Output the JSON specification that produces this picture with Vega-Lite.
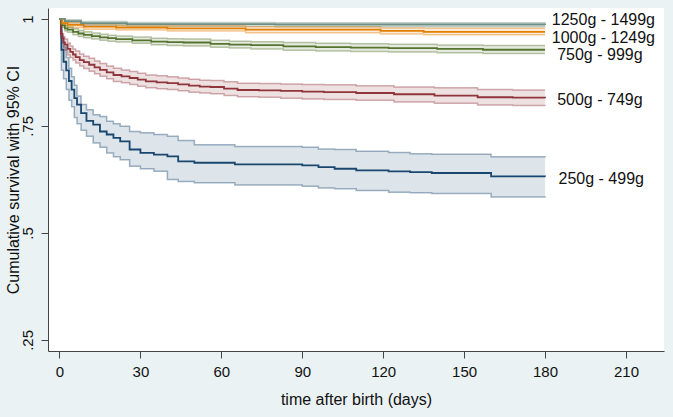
{
  "$schema": "https://vega.github.io/schema/vega-lite/v6.json",
  "width": 616,
  "height": 343,
  "autosize": {"type": "none"},
  "padding": {"left": 48, "top": 8, "right": 9, "bottom": 66},
  "background": "#eaf2f3",
  "config": {
    "view": {"fill": "white", "stroke": null},
    "font": "Liberation Sans",
    "axis": {
      "domainColor": "#444444",
      "tickColor": "#444444",
      "tickSize": 7,
      "grid": false,
      "labelFont": "Liberation Sans",
      "titleFont": "Liberation Sans",
      "labelFontSize": 15,
      "titleFontSize": 16,
      "labelColor": "#111111",
      "titleColor": "#111111",
      "titleFontWeight": "normal"
    }
  },
  "datasets": {
    "km": [
      {"g": "250", "t": 0, "s": 1, "lo": 1, "hi": 1},
      {"g": "250", "t": 0.7, "s": 0.928, "lo": 0.88, "hi": 0.96},
      {"g": "250", "t": 1.5, "s": 0.9, "lo": 0.86, "hi": 0.935},
      {"g": "250", "t": 2.5, "s": 0.88, "lo": 0.835, "hi": 0.91},
      {"g": "250", "t": 3.5, "s": 0.855, "lo": 0.81, "hi": 0.885},
      {"g": "250", "t": 4.5, "s": 0.835, "lo": 0.795, "hi": 0.865},
      {"g": "250", "t": 5.5, "s": 0.815, "lo": 0.77, "hi": 0.845},
      {"g": "250", "t": 6.5, "s": 0.8, "lo": 0.755, "hi": 0.82},
      {"g": "250", "t": 8, "s": 0.78, "lo": 0.74, "hi": 0.8},
      {"g": "250", "t": 10, "s": 0.762, "lo": 0.726, "hi": 0.788},
      {"g": "250", "t": 12.5, "s": 0.753, "lo": 0.71, "hi": 0.776},
      {"g": "250", "t": 15, "s": 0.737, "lo": 0.7, "hi": 0.772},
      {"g": "250", "t": 17.5, "s": 0.73, "lo": 0.687, "hi": 0.761},
      {"g": "250", "t": 20, "s": 0.722, "lo": 0.678, "hi": 0.755},
      {"g": "250", "t": 22.5, "s": 0.714, "lo": 0.671, "hi": 0.749},
      {"g": "250", "t": 26, "s": 0.695, "lo": 0.656, "hi": 0.737},
      {"g": "250", "t": 30, "s": 0.687, "lo": 0.65, "hi": 0.734},
      {"g": "250", "t": 35, "s": 0.683, "lo": 0.644, "hi": 0.73},
      {"g": "250", "t": 40, "s": 0.679, "lo": 0.625, "hi": 0.726},
      {"g": "250", "t": 44, "s": 0.667, "lo": 0.62, "hi": 0.716},
      {"g": "250", "t": 50, "s": 0.664, "lo": 0.617, "hi": 0.706},
      {"g": "250", "t": 65, "s": 0.66, "lo": 0.612, "hi": 0.702},
      {"g": "250", "t": 90, "s": 0.658, "lo": 0.609, "hi": 0.7},
      {"g": "250", "t": 96, "s": 0.654, "lo": 0.605, "hi": 0.696},
      {"g": "250", "t": 102, "s": 0.65, "lo": 0.603, "hi": 0.695},
      {"g": "250", "t": 110, "s": 0.646, "lo": 0.599, "hi": 0.691},
      {"g": "250", "t": 122, "s": 0.644, "lo": 0.595, "hi": 0.688},
      {"g": "250", "t": 130, "s": 0.642, "lo": 0.594, "hi": 0.685},
      {"g": "250", "t": 138, "s": 0.64, "lo": 0.592, "hi": 0.684},
      {"g": "250", "t": 160, "s": 0.632, "lo": 0.584, "hi": 0.678},
      {"g": "250", "t": 180, "s": 0.631, "lo": 0.582, "hi": 0.676},

      {"g": "500", "t": 0, "s": 1, "lo": 1, "hi": 1},
      {"g": "500", "t": 0.5, "s": 0.965, "lo": 0.955, "hi": 0.975},
      {"g": "500", "t": 1, "s": 0.955, "lo": 0.944, "hi": 0.966},
      {"g": "500", "t": 1.5, "s": 0.945, "lo": 0.932, "hi": 0.958},
      {"g": "500", "t": 2, "s": 0.94, "lo": 0.927, "hi": 0.953},
      {"g": "500", "t": 3, "s": 0.93, "lo": 0.916, "hi": 0.944},
      {"g": "500", "t": 4, "s": 0.923, "lo": 0.91, "hi": 0.937},
      {"g": "500", "t": 5, "s": 0.917, "lo": 0.904, "hi": 0.93},
      {"g": "500", "t": 6, "s": 0.911, "lo": 0.897, "hi": 0.925},
      {"g": "500", "t": 7.5, "s": 0.904, "lo": 0.89, "hi": 0.918},
      {"g": "500", "t": 9, "s": 0.899, "lo": 0.884, "hi": 0.913},
      {"g": "500", "t": 11, "s": 0.893, "lo": 0.878, "hi": 0.908},
      {"g": "500", "t": 13, "s": 0.887, "lo": 0.872, "hi": 0.902},
      {"g": "500", "t": 15, "s": 0.881, "lo": 0.866, "hi": 0.896},
      {"g": "500", "t": 17.5, "s": 0.875, "lo": 0.86, "hi": 0.89},
      {"g": "500", "t": 20, "s": 0.869, "lo": 0.854, "hi": 0.885},
      {"g": "500", "t": 23, "s": 0.866, "lo": 0.851, "hi": 0.881},
      {"g": "500", "t": 26, "s": 0.862, "lo": 0.847, "hi": 0.877},
      {"g": "500", "t": 29, "s": 0.858, "lo": 0.843, "hi": 0.873},
      {"g": "500", "t": 32, "s": 0.854, "lo": 0.839, "hi": 0.869},
      {"g": "500", "t": 36, "s": 0.852, "lo": 0.837, "hi": 0.867},
      {"g": "500", "t": 40, "s": 0.85, "lo": 0.835, "hi": 0.865},
      {"g": "500", "t": 44, "s": 0.847, "lo": 0.832, "hi": 0.862},
      {"g": "500", "t": 48, "s": 0.844, "lo": 0.829, "hi": 0.859},
      {"g": "500", "t": 52, "s": 0.842, "lo": 0.827, "hi": 0.857},
      {"g": "500", "t": 56, "s": 0.841, "lo": 0.825, "hi": 0.856},
      {"g": "500", "t": 61, "s": 0.837, "lo": 0.821, "hi": 0.853},
      {"g": "500", "t": 66, "s": 0.834, "lo": 0.818, "hi": 0.85},
      {"g": "500", "t": 74, "s": 0.833, "lo": 0.817, "hi": 0.849},
      {"g": "500", "t": 82, "s": 0.832, "lo": 0.815, "hi": 0.848},
      {"g": "500", "t": 90, "s": 0.83, "lo": 0.813, "hi": 0.847},
      {"g": "500", "t": 98, "s": 0.829, "lo": 0.812, "hi": 0.846},
      {"g": "500", "t": 110, "s": 0.827, "lo": 0.81, "hi": 0.844},
      {"g": "500", "t": 124, "s": 0.824, "lo": 0.806, "hi": 0.841},
      {"g": "500", "t": 139, "s": 0.821, "lo": 0.803, "hi": 0.839},
      {"g": "500", "t": 155, "s": 0.817, "lo": 0.799, "hi": 0.835},
      {"g": "500", "t": 168, "s": 0.816, "lo": 0.798, "hi": 0.834},
      {"g": "500", "t": 180, "s": 0.815, "lo": 0.797, "hi": 0.834},

      {"g": "750", "t": 0, "s": 1, "lo": 1, "hi": 1},
      {"g": "750", "t": 0.5, "s": 0.99, "lo": 0.986, "hi": 0.994},
      {"g": "750", "t": 1, "s": 0.985, "lo": 0.98, "hi": 0.99},
      {"g": "750", "t": 2, "s": 0.978, "lo": 0.972, "hi": 0.984},
      {"g": "750", "t": 3, "s": 0.975, "lo": 0.969, "hi": 0.981},
      {"g": "750", "t": 5, "s": 0.97, "lo": 0.963, "hi": 0.977},
      {"g": "750", "t": 7, "s": 0.966, "lo": 0.959, "hi": 0.973},
      {"g": "750", "t": 9, "s": 0.963, "lo": 0.956, "hi": 0.97},
      {"g": "750", "t": 12, "s": 0.96, "lo": 0.953, "hi": 0.967},
      {"g": "750", "t": 15, "s": 0.957, "lo": 0.95, "hi": 0.964},
      {"g": "750", "t": 18, "s": 0.955, "lo": 0.948, "hi": 0.962},
      {"g": "750", "t": 21, "s": 0.953, "lo": 0.946, "hi": 0.96},
      {"g": "750", "t": 27, "s": 0.95, "lo": 0.943, "hi": 0.958},
      {"g": "750", "t": 34, "s": 0.947, "lo": 0.94, "hi": 0.955},
      {"g": "750", "t": 40, "s": 0.946, "lo": 0.938, "hi": 0.954},
      {"g": "750", "t": 46, "s": 0.945, "lo": 0.937, "hi": 0.953},
      {"g": "750", "t": 56, "s": 0.942, "lo": 0.934, "hi": 0.95},
      {"g": "750", "t": 63, "s": 0.94, "lo": 0.932, "hi": 0.948},
      {"g": "750", "t": 71, "s": 0.939, "lo": 0.93, "hi": 0.947},
      {"g": "750", "t": 83, "s": 0.936, "lo": 0.927, "hi": 0.945},
      {"g": "750", "t": 95, "s": 0.934, "lo": 0.925, "hi": 0.943},
      {"g": "750", "t": 108, "s": 0.933, "lo": 0.924, "hi": 0.942},
      {"g": "750", "t": 122, "s": 0.932, "lo": 0.923, "hi": 0.941},
      {"g": "750", "t": 140, "s": 0.93, "lo": 0.921, "hi": 0.939},
      {"g": "750", "t": 157, "s": 0.928, "lo": 0.919, "hi": 0.938},
      {"g": "750", "t": 180, "s": 0.928, "lo": 0.919, "hi": 0.938},

      {"g": "1000", "t": 0, "s": 1, "lo": 1, "hi": 1},
      {"g": "1000", "t": 1, "s": 0.99, "lo": 0.985, "hi": 0.995},
      {"g": "1000", "t": 3, "s": 0.986, "lo": 0.98, "hi": 0.991},
      {"g": "1000", "t": 9, "s": 0.982, "lo": 0.976, "hi": 0.988},
      {"g": "1000", "t": 21, "s": 0.98, "lo": 0.974, "hi": 0.986},
      {"g": "1000", "t": 40, "s": 0.978, "lo": 0.972, "hi": 0.984},
      {"g": "1000", "t": 69, "s": 0.975, "lo": 0.968, "hi": 0.982},
      {"g": "1000", "t": 119, "s": 0.972, "lo": 0.965, "hi": 0.979},
      {"g": "1000", "t": 135, "s": 0.97, "lo": 0.963, "hi": 0.978},
      {"g": "1000", "t": 180, "s": 0.97, "lo": 0.963, "hi": 0.978},

      {"g": "1250", "t": 0, "s": 1, "lo": 1, "hi": 1},
      {"g": "1250", "t": 2, "s": 0.995, "lo": 0.991, "hi": 0.998},
      {"g": "1250", "t": 8, "s": 0.99, "lo": 0.985, "hi": 0.994},
      {"g": "1250", "t": 25, "s": 0.988, "lo": 0.983, "hi": 0.992},
      {"g": "1250", "t": 80, "s": 0.987, "lo": 0.982, "hi": 0.991},
      {"g": "1250", "t": 180, "s": 0.986, "lo": 0.981, "hi": 0.99}
    ],
    "labels": [
      {"g": "1250", "t": 182.5, "s": 0.998, "text": "1250g - 1499g"},
      {"g": "1000", "t": 182.5, "s": 0.955, "text": "1000g - 1249g"},
      {"g": "750", "t": 184.5, "s": 0.916, "text": "750g - 999g"},
      {"g": "500", "t": 184.5, "s": 0.811, "text": "500g - 749g"},
      {"g": "250", "t": 185, "s": 0.625, "text": "250g - 499g"}
    ]
  },
  "layer": [
    {
      "data": {"name": "km"},
      "mark": {"type": "area", "interpolate": "step-after", "opacity": 0.15},
      "encoding": {
        "x": {"field": "t", "type": "quantitative", "scale": {"domain": [-4.26, 224.1], "nice": false, "zero": false},
              "axis": {"values": [0, 30, 60, 90, 120, 150, 180, 210], "title": "time after birth (days)", "labelPadding": 6, "titlePadding": 12}},
        "y": {"field": "lo", "type": "quantitative", "scale": {"domain": [0.2241, 1.0256], "nice": false, "zero": false},
              "axis": {"values": [0.25, 0.5, 0.75, 1], "title": "Cumulative survival with 95% CI",
                       "labelExpr": "substring(format(datum.value, '.2~f'), datum.value < 1 ? 1 : 0)",
                       "labelAngle": -90, "labelAlign": "center", "labelBaseline": "bottom", "labelPadding": 6, "titlePadding": -1}},
        "y2": {"field": "hi"},
        "color": {"field": "g", "type": "nominal", "legend": null,
                  "scale": {"domain": ["250", "500", "750", "1000", "1250"], "range": ["#1a476f", "#90353b", "#55752f", "#e37e00", "#6e8e84"]}},
        "detail": {"field": "g"}
      }
    },
    {
      "data": {"name": "km"},
      "mark": {"type": "line", "interpolate": "step-after", "strokeWidth": 1.5, "opacity": 0.4},
      "encoding": {
        "x": {"field": "t", "type": "quantitative"},
        "y": {"field": "lo", "type": "quantitative"},
        "color": {"field": "g", "type": "nominal", "legend": null}
      }
    },
    {
      "data": {"name": "km"},
      "mark": {"type": "line", "interpolate": "step-after", "strokeWidth": 1.5, "opacity": 0.4},
      "encoding": {
        "x": {"field": "t", "type": "quantitative"},
        "y": {"field": "hi", "type": "quantitative"},
        "color": {"field": "g", "type": "nominal", "legend": null}
      }
    },
    {
      "data": {"name": "km"},
      "mark": {"type": "line", "interpolate": "step-after", "strokeWidth": 1.8},
      "encoding": {
        "x": {"field": "t", "type": "quantitative"},
        "y": {"field": "s", "type": "quantitative"},
        "color": {"field": "g", "type": "nominal", "legend": null}
      }
    },
    {
      "data": {"name": "labels"},
      "mark": {"type": "text", "align": "left", "baseline": "middle", "fontSize": 16, "font": "Liberation Sans", "color": "#111111"},
      "encoding": {
        "x": {"field": "t", "type": "quantitative"},
        "y": {"field": "s", "type": "quantitative"},
        "text": {"field": "text"}
      }
    }
  ]
}
